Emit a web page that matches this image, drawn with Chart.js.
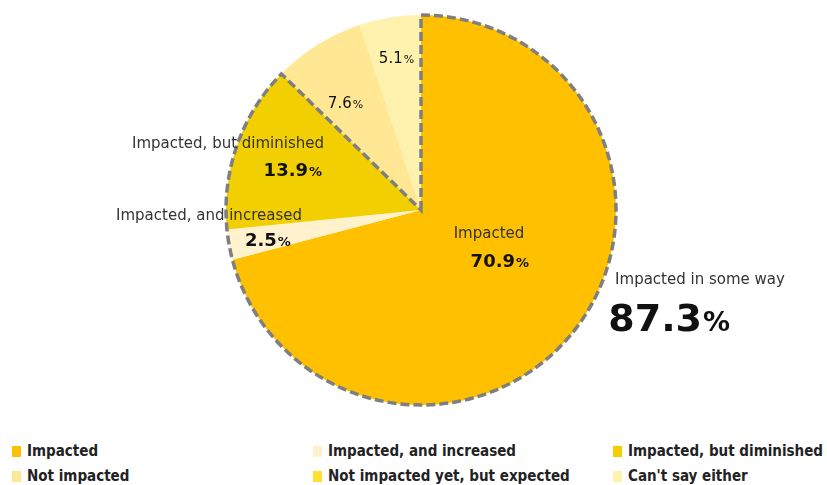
<!DOCTYPE html>
<html>
<head>
<meta charset="utf-8">
<script src="https://cdn.jsdelivr.net/npm/chart.js@4/dist/chart.umd.min.js"></script>
<style>
  body { margin: 0; background: #fff; }
  #wrap { position: relative; width: 827px; height: 435px; }
  #legend {
    position: relative; width: 827px; height: 50px;
    font-family: "Liberation Sans Narrow", "DejaVu Sans Condensed", Arial, sans-serif;
    font-weight: bold; font-size: 15px; color: #222;
  }
  .item { position: absolute; height: 18px; line-height: 18px; white-space: nowrap; }
  .box { display: inline-block; width: 9px; height: 11px; margin-right: 6px; vertical-align: -1px; }
</style>
</head>
<body>
<div id="wrap"><canvas id="pie"></canvas></div>
<div id="legend"></div>
<script>
const categories = ['Impacted', 'Impacted, and increased', 'Impacted, but diminished',
                    'Not impacted', 'Not impacted yet, but expected', "Can't say either"];
const shares = [70.9, 2.5, 13.9, 7.6, 0, 5.1];
const colors = ['#FFC000', '#FFF2CC', '#F2CF00', '#FFE794', '#FFE033', '#FFF2AE'];
// slice labels: [name, offset from center for name, offset for value]
const sliceLabels = [
  ['Impacted', [68, 24], [78, 51]],
  ['Impacted, and increased', [-212, 6], [-154, 30]],
  ['Impacted, but diminished', [-193, -66], [-129, -40]],
  ['', null, [-76, -107]],
  null,
  ['', null, [-25, -152]]
];

const ctx = document.getElementById('pie').getContext('2d');

function drawValue(c, x, y, value, bold, size) {
  const num = value.toFixed(1);
  const pct = '%';
  c.font = (bold ? 'bold ' : '') + size + 'px "DejaVu Sans", Verdana, sans-serif';
  const w1 = c.measureText(num).width;
  const small = Math.round(size * 0.72);
  c.font = small + 'px "DejaVu Sans", Verdana, sans-serif';
  const w2 = c.measureText(pct).width;
  let left = x - (w1 + w2) / 2;
  c.textAlign = 'left';
  c.textBaseline = 'alphabetic';
  c.fillStyle = '#111';
  c.font = (bold ? 'bold ' : '') + size + 'px "DejaVu Sans", Verdana, sans-serif';
  c.fillText(num, left, y + size * 0.36);
  c.font = (bold ? 'bold ' : '') + small + 'px "DejaVu Sans", Verdana, sans-serif';
  c.fillText(pct, left + w1 + 1, y + size * 0.36);
}

// dashed outline around the three "impacted" slices, plus text labels
const overlay = {
  id: 'overlay',
  afterDatasetsDraw(chart) {
    const c = chart.ctx;
    const arcs = chart.getDatasetMeta(0).data;
    const a0 = arcs[0], a2 = arcs[2];
    const cx = a0.x, cy = a0.y, r = a0.outerRadius;
    c.save();
    c.beginPath();
    c.moveTo(cx, cy);
    c.arc(cx, cy, r, a0.startAngle, a2.endAngle);
    c.closePath();
    c.setLineDash([9, 4]);
    c.lineWidth = 3.5;
    c.strokeStyle = '#7F7F7F';
    c.stroke();
    c.setLineDash([]);

    sliceLabels.forEach((lab, i) => {
      if (!lab) return;
      const [name, np, vp] = lab;
      if (name) {
        c.font = '15px "DejaVu Sans", Verdana, sans-serif';
        c.fillStyle = '#333';
        c.textAlign = 'center';
        c.textBaseline = 'middle';
        c.fillText(name, cx + np[0], cy + np[1]);
      }
      const bold = i < 3;
      drawValue(c, cx + vp[0], cy + vp[1], shares[i], bold, bold ? 18 : 15);
    });

    const total = shares[0] + shares[1] + shares[2];
    c.font = '15px "DejaVu Sans", Verdana, sans-serif';
    c.fillStyle = '#333';
    c.textAlign = 'center';
    c.textBaseline = 'middle';
    c.fillText('Impacted in some way', cx + 279, cy + 70);
    drawValue(c, cx + 247, cy + 107, total, true, 38);
    c.restore();
  }
};

const chart = new Chart(ctx, {
  type: 'pie',
  data: {
    labels: categories,
    datasets: [{
      data: shares,
      backgroundColor: colors,
      borderWidth: 0
    }]
  },
  options: {
    responsive: true,
    maintainAspectRatio: false,
    animation: false,
    layout: { padding: { top: 15, bottom: 30, left: 15, right: 0 } },
    plugins: {
      legend: { display: false },
      tooltip: { enabled: false }
    }
  },
  plugins: [overlay]
});

// legend in three columns
const legend = document.getElementById('legend');
const colX = [12, 313, 613];
categories.forEach((name, i) => {
  const el = document.createElement('div');
  el.className = 'item';
  el.style.left = colX[i % 3] + 'px';
  el.style.top = (7 + Math.floor(i / 3) * 25) + 'px';
  el.innerHTML = '<span class="box" style="background:' + colors[i] + '"></span>' + name;
  legend.appendChild(el);
});
</script>
</body>
</html>
